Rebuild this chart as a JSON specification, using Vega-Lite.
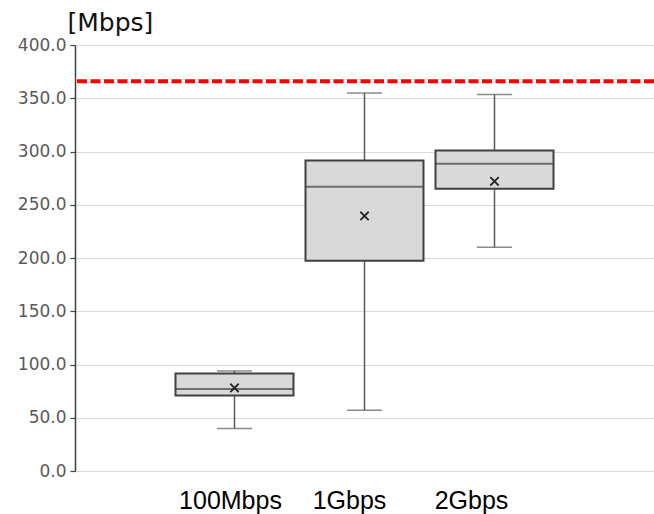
{
  "$schema": "https://vega.github.io/schema/vega-lite/v6.json",
  "width": 579,
  "height": 426,
  "autosize": {"type": "none"},
  "padding": {"left": 75, "top": 45, "right": 0, "bottom": 43},
  "background": "white",
  "config": {"view": {"stroke": null}},
  "datasets": {
    "stats": [
      {"speed": "100Mbps", "min": 40, "q1": 71, "median": 77, "q3": 91.5, "max": 94, "mean": 78},
      {"speed": "1Gbps", "min": 57, "q1": 197.5, "median": 267, "q3": 291.5, "max": 355, "mean": 239.5},
      {"speed": "2Gbps", "min": 210, "q1": 265, "median": 288.5, "q3": 301, "max": 353.5, "mean": 272}
    ],
    "limit": [{"limit": 366}]
  },
  "layer": [
    {
      "data": {"name": "stats"},
      "encoding": {
        "x": {
          "field": "speed",
          "type": "nominal",
          "sort": null,
          "scale": {"paddingInner": 0.0923, "paddingOuter": 0.773},
          "axis": {
            "title": null,
            "domain": false,
            "ticks": false,
            "grid": false,
            "labelAngle": 0,
            "labelFont": "Liberation Sans",
            "labelFontSize": 25,
            "labelColor": "#000000",
            "labelPadding": 17,
            "labelOffset": {"condition": [{"test": "datum.value === '1Gbps'", "value": -15}, {"test": "datum.value === '2Gbps'", "value": -23}], "value": -4}
          }
        }
      },
      "layer": [
        {
          "mark": {"type": "rule", "color": "#595959", "strokeWidth": 1.5},
          "encoding": {
            "y": {
              "field": "min",
              "type": "quantitative",
              "scale": {"domain": [0, 400], "nice": false, "zero": true},
              "axis": {
                "title": "[Mbps]",
                "values": [0, 50, 100, 150, 200, 250, 300, 350, 400],
                "format": ".1f",
                "grid": true,
                "gridColor": "#d9d9d9",
                "gridWidth": 1.2,
                "domainColor": "#404040",
                "domainWidth": 1.5,
                "tickColor": "#404040",
                "tickSize": 5,
                "tickWidth": 1.2,
                "labelFont": "DejaVu Sans",
                "labelFontSize": 17,
                "labelColor": "#595959",
                "labelPadding": 4,
                "titleAngle": 0,
                "titleX": -8,
                "titleY": -15,
                "titleAlign": "left",
                "titleBaseline": "alphabetic",
                "titleFont": "DejaVu Sans",
                "titleFontSize": 25,
                "titleFontWeight": "normal",
                "titleColor": "#111111"
              }
            },
            "y2": {"field": "max"}
          }
        },
        {
          "mark": {"type": "bar", "fill": "#d9d9d9", "stroke": "#404040", "strokeWidth": 2},
          "encoding": {
            "y": {"field": "q1", "type": "quantitative"},
            "y2": {"field": "q3"}
          }
        },
        {
          "mark": {"type": "tick", "color": "#404040", "size": 118, "thickness": 2},
          "encoding": {"y": {"field": "median", "type": "quantitative"}}
        },
        {
          "mark": {"type": "tick", "color": "#595959", "size": 35, "thickness": 1.5},
          "encoding": {"y": {"field": "min", "type": "quantitative"}}
        },
        {
          "mark": {"type": "tick", "color": "#595959", "size": 35, "thickness": 1.5},
          "encoding": {"y": {"field": "max", "type": "quantitative"}}
        },
        {
          "mark": {"type": "point", "shape": "M-1,-1L1,1M-1,1L1,-1", "size": 70, "filled": false, "stroke": "#262626", "strokeWidth": 1.8, "opacity": 1},
          "encoding": {"y": {"field": "mean", "type": "quantitative"}}
        }
      ]
    },
    {
      "data": {"name": "limit"},
      "mark": {"type": "rule", "color": "#ff0000", "strokeWidth": 4, "strokeDash": [10, 3.5]},
      "encoding": {"y": {"field": "limit", "type": "quantitative"}}
    }
  ]
}
